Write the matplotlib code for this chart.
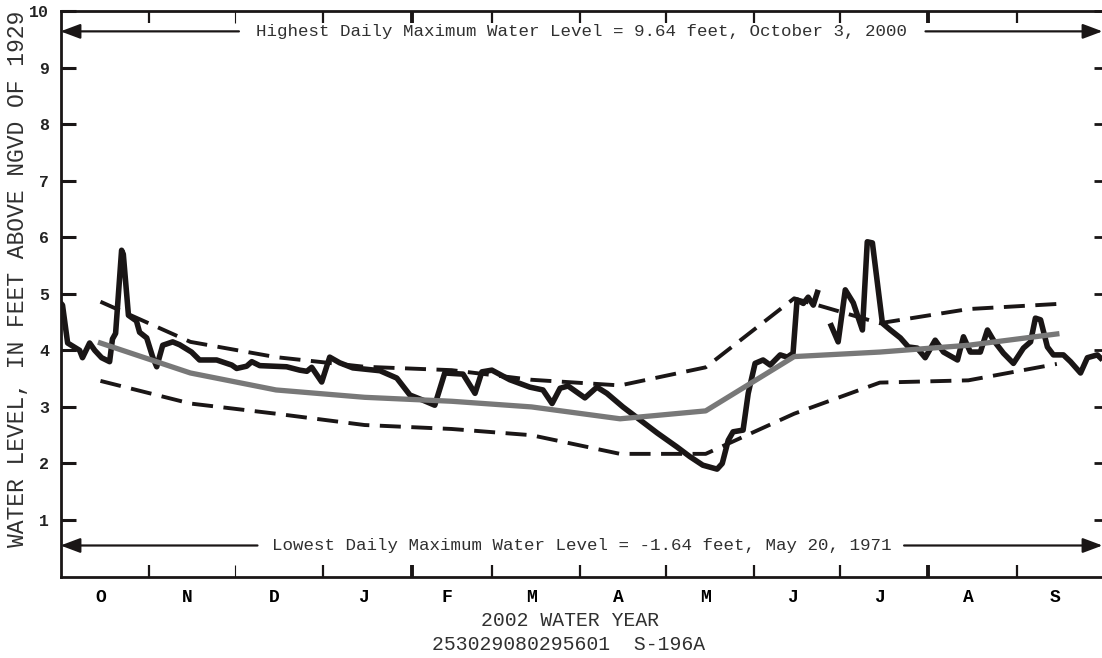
import numpy as np
import matplotlib
matplotlib.use("Agg")
import matplotlib.pyplot as plt

# ---- data -------------------------------------------------------------
# Day of the water year (0 = Oct 1, 2001) and daily maximum water level (ft)
daily_day = [0, 0.7, 2.5, 6.7, 7.7, 10.2, 12, 14.4, 17.2, 18.2, 19.3, 21.4, 22,
             23.8, 26.6, 27.7, 30.2, 32.3, 33.7, 35.8, 39.3, 41.7, 45.9, 48.7,
             54.7, 60, 61.7, 65.2, 67, 69.8, 79.2, 83.8, 86.3, 88, 91.5, 94.3,
             97.8, 102.4, 111.9, 117.8, 122.4, 126.9, 131.1, 134.6, 141, 145.2,
             147.6, 151.1, 157.4, 164.4, 169, 172.2, 175, 177.8, 183.7, 187.9,
             191.4, 197, 203, 209, 216, 220.5, 225, 230, 231.8, 233.9, 235.6,
             239.1, 240.9, 243.3, 246.1, 248.6, 252.1, 254.6, 256.6, 258, 260.2,
             261.9, 263.7, 265.4, 267.5,
             269.6, 272.4, 274.9, 277.7, 280.9, 282.6, 284.4, 287.9, 290.7,
             294.2, 297, 300.1, 302.9, 306.4, 309.3, 314.2, 316.3, 318.7, 322.2,
             324.7, 326.8, 330.3, 333.8, 337.3, 339.8, 341.5, 343.3, 345.7,
             347.8, 351.3, 353.8, 357.3, 359.7, 363.2, 365]
daily_level = [4.84, 4.80, 4.13, 4.00, 3.87, 4.13, 4.00, 3.87, 3.80, 4.20, 4.30,
               5.77, 5.70, 4.62, 4.52, 4.32, 4.22, 3.88, 3.71, 4.09, 4.15, 4.10,
               3.97, 3.83, 3.83, 3.74, 3.68, 3.72, 3.80, 3.73, 3.71, 3.65, 3.63,
               3.70, 3.44, 3.88, 3.78, 3.69, 3.64, 3.51, 3.21, 3.12, 3.03, 3.60,
               3.58, 3.24, 3.62, 3.65, 3.48, 3.35, 3.30, 3.06, 3.33, 3.37, 3.16,
               3.35, 3.24, 3.00, 2.77, 2.54, 2.29, 2.12, 1.97, 1.90, 2.00, 2.41,
               2.56, 2.59, 3.24, 3.77, 3.83, 3.74, 3.92, 3.88, 3.95, 4.89, 4.83,
               4.94, 4.80, 5.07, None,
               4.48, 4.15, 5.07, 4.84, 4.36, 5.92, 5.90, 4.48, 4.36, 4.22, 4.06,
               4.04, 3.87, 4.18, 3.97, 3.83, 4.24, 3.97, 3.97, 4.36, 4.18, 3.95,
               3.77, 4.04, 4.15, 4.57, 4.54, 4.06, 3.92, 3.92, 3.80, 3.60, 3.87,
               3.92, 3.83]

# Monthly statistics for the period of record, plotted at mid-month
month_mid_day = [14, 45.5, 75.5, 106.5, 137, 165, 196, 226, 257, 287, 318, 349]
monthly_max = [4.86, 4.15, 3.88, 3.71, 3.65, 3.48, 3.38, 3.70, 4.92, 4.48, 4.73, 4.82]
monthly_mean = [4.13, 3.60, 3.30, 3.17, 3.10, 3.00, 2.79, 2.93, 3.89, 3.97, 4.09, 4.29]
monthly_min = [3.46, 3.06, 2.88, 2.68, 2.61, 2.50, 2.17, 2.17, 2.88, 3.43, 3.47, 3.76]

month_labels = ["O", "N", "D", "J", "F", "M", "A", "M", "J", "J", "A", "S"]
month_lengths = [31, 30, 31, 31, 28, 31, 30, 31, 30, 31, 31, 30]
y_ticks = [1, 2, 3, 4, 5, 6, 7, 8, 9, 10]

record_high = 9.64
record_low_text = "Lowest Daily Maximum Water Level = -1.64 feet, May 20, 1971"
record_high_text = "Highest Daily Maximum Water Level = 9.64 feet, October 3, 2000"
low_marker_level = 0.55

# ---- figure -----------------------------------------------------------
MONO = "Liberation Mono"
W, H = 1102, 658
fig = plt.figure(figsize=(W / 100, H / 100), dpi=100)
ax = fig.add_axes([60.5 / W, 1 - 576.6 / H, 1042 / W, (576.6 - 11) / H])

bounds = np.concatenate([[0], np.cumsum(month_lengths)])
ax.set_xlim(0, bounds[-1])
ax.set_ylim(0, 10)

lvl = np.array([np.nan if v is None else v for v in daily_level], dtype=float)
ax.plot(daily_day, lvl, color="#1a1616", lw=4.0, solid_joinstyle="round",
        solid_capstyle="butt", zorder=3)

dash = (0, (5.4, 2.7))
ax.plot(month_mid_day, monthly_max, color="#1a1616", lw=2.8, ls=dash, zorder=2)
ax.plot(month_mid_day, monthly_min, color="#1a1616", lw=2.8, ls=dash, zorder=2)
ax.plot(month_mid_day, monthly_mean, color="#787878", lw=3.8,
        solid_joinstyle="round", zorder=4)

# record annotations with arrows to the frame
mid = bounds[-1] / 2
txt_kw = dict(family=MONO, fontsize=12.6, color="#303030", ha="center",
              va="center", zorder=5)
ax.text(mid, record_high, record_high_text, **txt_kw)
ax.text(mid, low_marker_level, record_low_text, **txt_kw)
arrow_kw = dict(arrowstyle="-|>,head_length=1.2,head_width=0.45",
                color="#1a1616", lw=1.6, shrinkA=0, shrinkB=0)
for y, x0, x1 in [(record_high, 62.5, 0), (record_high, 303, bounds[-1]),
                  (low_marker_level, 69, 0), (low_marker_level, 295.5, bounds[-1])]:
    ax.annotate("", xy=(x1, y), xytext=(x0, y), arrowprops=arrow_kw,
                annotation_clip=False, zorder=5)

# frame
for side in ["left", "top", "bottom"]:
    ax.spines[side].set_linewidth(2.0)
    ax.spines[side].set_color("#1a1616")
ax.spines["right"].set_visible(False)

# month ticks on top and bottom
ax.set_xticks(bounds[1:-1])
ax.set_xticklabels([])
ax.tick_params(axis="x", which="major", direction="in", length=8.8, width=1.6,
               top=True, bottom=True, color="#1a1616")
for b, tick in zip(bounds[1:-1], ax.xaxis.get_major_ticks()):
    if b in (123, 304):
        for ln in (tick.tick1line, tick.tick2line):
            ln.set_markeredgewidth(2.8)
    elif b == 61:
        for ln in (tick.tick1line, tick.tick2line):
            ln.set_markeredgewidth(0.8)
            ln.set_color("#a0a0a0")

ax.set_xticks((bounds[:-1] + bounds[1:]) / 2 - 1.5, minor=True)
ax.set_xticklabels(month_labels, minor=True, family=MONO, fontweight="bold",
                   fontsize=13)
ax.tick_params(axis="x", which="minor", length=0, pad=9)

ax.set_yticks(y_ticks)
ax.set_yticklabels([str(t) for t in y_ticks], family=MONO, fontweight="bold",
                   fontsize=12, color="#222222")
ax.tick_params(axis="y", direction="in", length=11, width=2.2, pad=8,
               left=True, right=False, color="#1a1616")

# short inward ticks along the right edge
ax2 = ax.twinx()
ax2.set_ylim(0, 10)
ax2.set_yticks(y_ticks)
ax2.tick_params(axis="y", direction="in", length=6.5, width=2.0,
                labelright=False, color="#1a1616")
for s in ax2.spines.values():
    s.set_visible(False)

fig.text(18 / W, 1 - 279 / H, "WATER LEVEL, IN FEET ABOVE NGVD OF 1929",
         rotation=90, ha="center", va="center", family=MONO, fontsize=16.6,
         color="#303030")
fig.text(570 / W, 1 - 621 / H, "2002 WATER YEAR", ha="center", va="center",
         family=MONO, fontsize=14.2, color="#303030")
fig.text(569 / W, 1 - 645 / H, "253029080295601  S-196A", ha="center",
         va="center", family=MONO, fontsize=14.2, color="#303030")

fig.savefig("out.png", dpi=100)
